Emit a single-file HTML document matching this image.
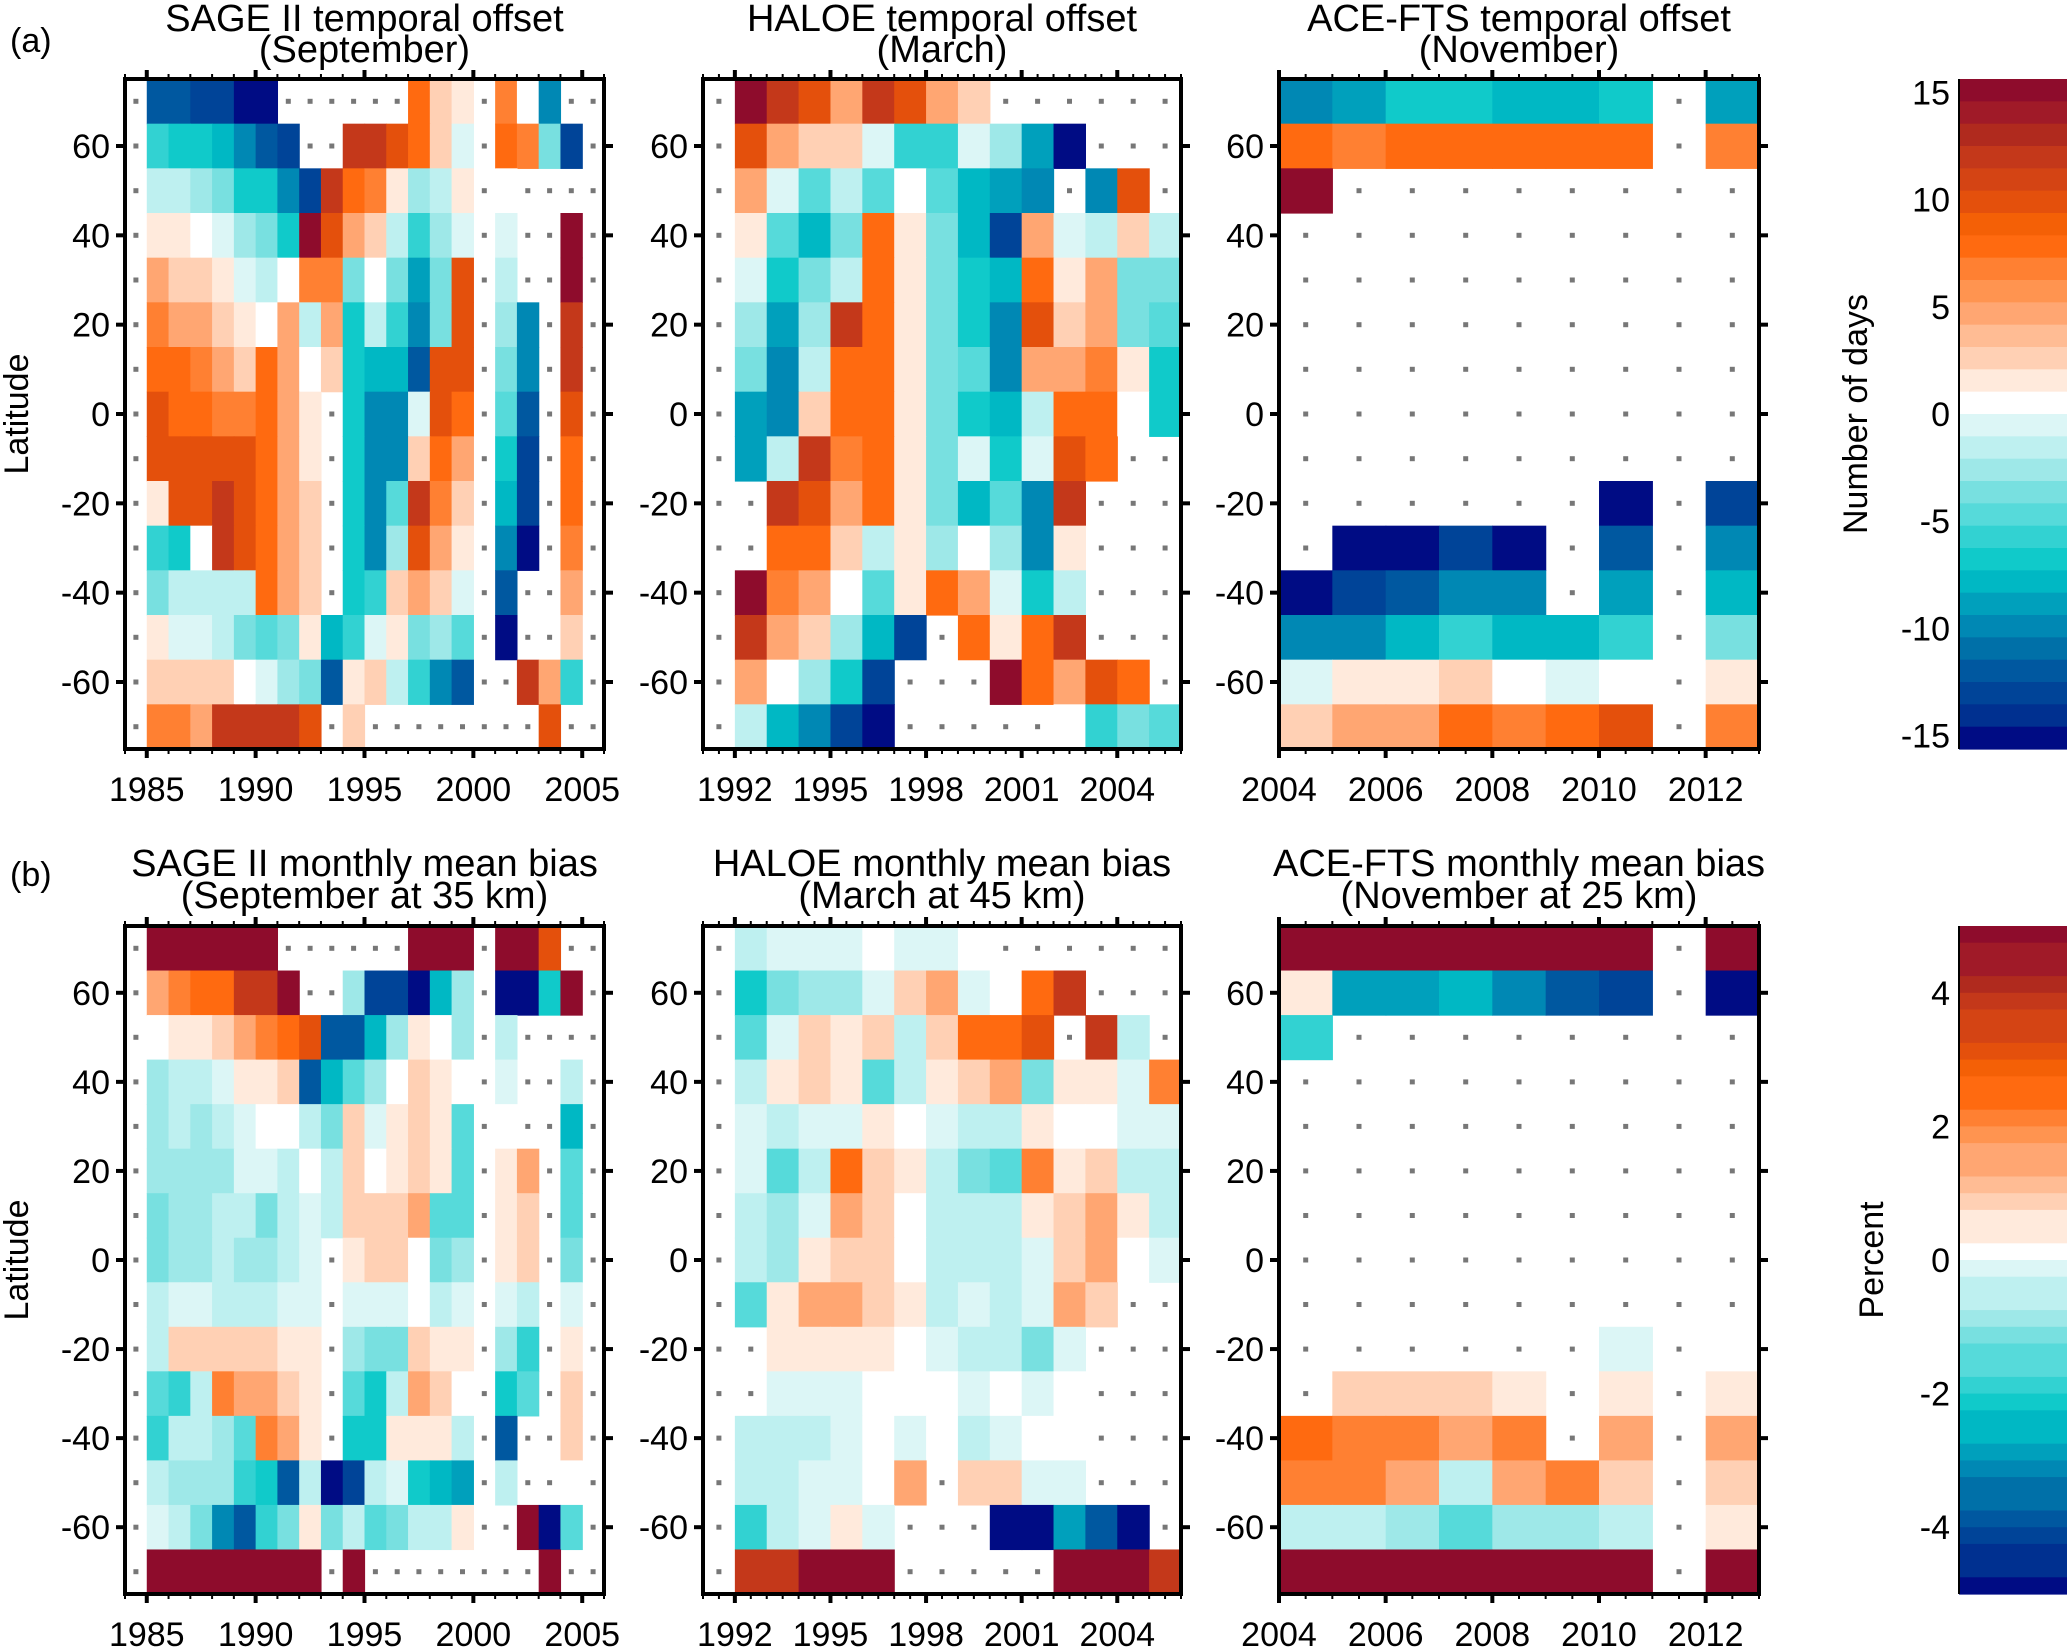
<!DOCTYPE html>
<html><head><meta charset="utf-8">
<style>
html,body{margin:0;padding:0;background:#fff;}
svg{display:block;font-family:"Liberation Sans",sans-serif;}
</style></head>
<body>
<svg id="fig" width="2067" height="1648" viewBox="0 0 2067 1648" xmlns="http://www.w3.org/2000/svg">
<text x="10" y="52" font-size="34">(a)</text>
<text x="10" y="886" font-size="34">(b)</text>
</svg>
<script>
const codeValues = {R:14.5,r:11.5,E:9.5,O:7.5,o:6.5,p:4.5,q:2.5,s:1.5,'0':0.5,a:-0.5,b:-1.5,c:-2.5,d:-3.5,e:-4.5,f:-5.5,g:-6.5,h:-7.5,i:-8.5,j:-9.5,k:-11.5,l:-12.5,m:-14.5};
const latCenters = [70,60,50,40,30,20,10,0,-10,-20,-30,-40,-50,-60,-70];
const yTicks = [60,40,20,0,-20,-40,-60];

const sageYears = [1984,2006];
const haloeYears = [1991,2006];
const aceYears = [2004,2013];
const sageTicks = [1985,1990,1995,2000,2005];
const haloeTicks = [1992,1995,1998,2001,2004];
const aceTicks = [2004,2006,2008,2010,2012];

const sageOffset = [
".kkllmm......Oqs.o0j..",
".fgghjkl..rrEOqa.Oodl.",
".bbcdggjlrOoscbs.0....",
".ss0acdgREpqbfca.a..R.",
".pqqsab0ood0didE.b..R.",
".oppqs0pbpgbfjdE.cj.r.",
".OOopqOp0qghhkEE.dj.r.",
".EOOooOps.gjjaEO.ek.E.",
".EEEEEOps.gjjqOp.gl.O.",
".sEErEOpq.gjeroq.hl.O.",
".fg0rEOpq.gjcEps.jm.o.",
".dbbbbOpq.gfqpqa.k..p.",
".saabdedshfasdce.m..q.",
".qqqq0acdksqbfjk..rpf.",
".ooprrrrE.q........E.."
];
const haloeOffset = [
".RrEprEpq......",
".Epqqaffacim...",
".paebe0ehij.jE.",
".sehdOsdhlpabqb",
".agdbOsdghOspdd",
".cicrOsdgjEqpde",
".djbOOsdejppos g".replace(' ',''),
".ijqOOsdghbOO0g",
".ibroOsdagaEO..",
"..rEpOsdhejr...",
"..OOqbsc0cjs...",
".Rop0esOpagb...",
".rpqchl.OsOr...",
".p0cgl...ROpEO.",
".bhjlm.....0fde"
];
const aceOffset = [
"jigghhg.i",
"OoOOOOO.o",
"R........",
".........",".........",".........",".........",".........",".........",
"......m.l",
".mmlm.k.j",
"mlkjj.i.h",
"jjhfhhf.d",
"assq0a0.s",
"qppOoOE.o"
];
const sageBias = [
".RRRRRR......RRR.RRE..",
".poOOrrR..cllmhc.mmgR.",
".0ssqpoOEkkhcs0c.b....",
".cbbassqkhec0qs0.a..b.",
".cbcba00bdqasqse.0..h.",
".ccccaab0bq0sqse.sp.e.",
".dccbbdbabqqqpee.sq.e.",
".dccbccba.sqq0dc.sq.d.",
".baabbbaa.aaa0ba.ab.a.",
".bqqqqqss.cddqss.cf.s.",
".efboppqs.egbpq0.ge.q.",
".fbbceops.ggsssb.k..q.",
".bcccfgkbmlbaghi.b..0.",
".abdjkfdsdbedbbs..Rme.",
".RRRRRRRR.R........R.."
];
const haloeBias = [
".baaa0aa0......",
".gdccaqpa0Or...",
".eaqsqbqOOE.rb.",
".bsqsebsqpdssao",
".abaas0abbs00aa",
".aebOqsbdeosqbb",
".bcapq0bbbsqpsb",
".bcsqq0bbbaqp0a",
".esppqsbabapq..",
"..ssss0abbda...",
"..aaa000a0a0...",
".bbba0a0ba00...",
".bbaa0p.qqaa...",
".fbasa...mmikm.",
".rrRRR.....RRRr"
];
const aceBias = [
"RRRRRRR.R",
"siihjkl.m",
"f........",
".........",".........",".........",".........",".........",".........",
"......a.0",
".qqqs.s.s",
"Ooopo.p.p",
"oopbpoq.q",
"bbceccb.s",
"RRRRRRR.R"
];

const stops = ["#8e0c2c","#a01a28","#b02a1e","#c4381a","#d44414","#e4500c","#f46006","#ff6a10","#ff8032","#ff9450","#ffa672","#ffbc94","#ffd0b4","#ffeadc","#ffffff",
"#dcf6f6","#bef0f0","#9ee8e8","#78e0e0","#56dada","#32d2d2","#10caca","#00b8c4","#00a0bc","#0088b4","#0070a8","#0058a0","#004498","#003090","#000c84"];
function colorFrac(f){
  let idx = Math.floor((1-f)/2*30); if(idx<0)idx=0; if(idx>29)idx=29; return stops[idx];
}
const NS="http://www.w3.org/2000/svg";
const svg=document.getElementById('fig');
function mk(tag,attrs,parent){const e=document.createElementNS(NS,tag);for(const k in attrs)e.setAttribute(k,attrs[k]);(parent||svg).appendChild(e);return e;}

function panel(name,x0,x1,y0,y1,yrs,ticks,minorStep,data,vmax,title1,title2,tOff1,tOff2){
  const g=mk('g',{});
  
  
  const xs=v=>x0+(v-yrs[0])/(yrs[1]-yrs[0])*(x1-x0);
  const ys=v=>y0+(75-v)/150*(y1-y0);
  data.forEach((row,ri)=>{
    const lat=latCenters[ri];
    for(let ci=0;ci<row.length;ci++){
      const ch=row[ci]; const yr=yrs[0]+ci;
      const cx=xs(yr), cw=xs(yr+1)-xs(yr), cy=ys(lat+5), chh=ys(lat-5)-ys(lat+5);
      if(ch==='.'){
        const d=mk('rect',{x:(xs(yr+0.5)-2.5).toFixed(1),y:(ys(lat)-2.5).toFixed(1),width:5,height:5,fill:'#777'},g);
        
        
      } else {
        const v=codeValues[ch]*vmax/15;
        const r=mk('rect',{x:cx.toFixed(2),y:cy.toFixed(2),width:(cw+0.6).toFixed(2),height:(chh+0.6).toFixed(2),fill:colorFrac(v/vmax)},g);
        
        
      }
    }
  });
  const fr=mk('rect',{x:x0,y:y0,width:x1-x0,height:y1-y0,fill:'none',stroke:'#000','stroke-width':4},g);
  
  
  for(let t=yrs[0];t<=yrs[1]+1e-6;t+=minorStep){
    const X=xs(t);
    mk('line',{x1:X,x2:X,y1:y1,y2:y1+5,stroke:'#000','stroke-width':2},g);
    mk('line',{x1:X,x2:X,y1:y0,y2:y0-5,stroke:'#000','stroke-width':2},g);
  }
  ticks.forEach(t=>{
    const X=xs(t);
    mk('line',{x1:X,x2:X,y1:y1,y2:y1+9,stroke:'#000','stroke-width':4},g);
    mk('line',{x1:X,x2:X,y1:y0,y2:y0-9,stroke:'#000','stroke-width':4},g);
    const tx=mk('text',{x:X,y:y1+52,'font-size':34,'text-anchor':'middle'},g);
    tx.textContent=t;
    
    
  });
  yTicks.forEach(t=>{
    const Y=ys(t);
    mk('line',{x1:x0-9,x2:x0,y1:Y,y2:Y,stroke:'#000','stroke-width':4},g);
    mk('line',{x1:x1,x2:x1+9,y1:Y,y2:Y,stroke:'#000','stroke-width':4},g);
    const tx=mk('text',{x:x0-15,y:Y+12,'font-size':34,'text-anchor':'end'},g);
    tx.textContent=t;
    
    
  });
  const cxm=(x0+x1)/2;
  const t1=mk('text',{x:cxm,y:y0-tOff1,'font-size':38,'text-anchor':'middle'},g);
  t1.textContent=title1;
  
  
  const t2=mk('text',{x:cxm,y:y0-tOff2,'font-size':38,'text-anchor':'middle'},g);
  t2.textContent=title2;
  
  
}
const A=[79,749], B=[926,1594];
const C1=[125,604], C2=[703,1181], C3=[1279,1759];
panel('sage-offset-panel',C1[0],C1[1],A[0],A[1],sageYears,sageTicks,1,sageOffset,15,'SAGE II  temporal offset','(September)',48,17);
panel('haloe-offset-panel',C2[0],C2[1],A[0],A[1],haloeYears,haloeTicks,0.5,haloeOffset,15,'HALOE  temporal offset','(March)',48,17);
panel('ace-offset-panel',C3[0],C3[1],A[0],A[1],aceYears,aceTicks,0.5,aceOffset,15,'ACE-FTS  temporal offset','(November)',48,17);
panel('sage-bias-panel',C1[0],C1[1],B[0],B[1],sageYears,sageTicks,1,sageBias,5,'SAGE II monthly mean bias','(September at 35 km)',50,18);
panel('haloe-bias-panel',C2[0],C2[1],B[0],B[1],haloeYears,haloeTicks,0.5,haloeBias,5,'HALOE monthly mean bias','(March at  45 km)',50,18);
panel('ace-bias-panel',C3[0],C3[1],B[0],B[1],aceYears,aceTicks,0.5,aceBias,5,'ACE-FTS monthly mean bias','(November at 25 km)',50,18);

[[414,'latitude-label-a'],[1260,'latitude-label-b']].forEach(([cy,nm])=>{
  const t=mk('text',{x:0,y:0,'font-size':34,'text-anchor':'middle',transform:`translate(28,${cy}) rotate(-90)`});
  t.textContent='Latitude';
  
  
});

const cbTicksA=[15,10,5,0,-5,-10,-15];
const cbTicksB=[4,2,0,-2,-4];
function colorbar(name,y0,y1,vmax,nb,ticks,label,lx,labScale){
  const g=mk('g',{});
  
  
  const x0=1959,x1=2067;
  for(let i=0;i<nb;i++){
    const f=1-(i+0.5)/nb*2;
    const r=mk('rect',{x:x0,y:(y0+(y1-y0)*i/nb).toFixed(2),width:x1-x0,height:((y1-y0)/nb+0.6).toFixed(2),fill:colorFrac(f)},g);
    
    
  }
  mk('line',{x1:x0,x2:x0,y1:y0,y2:y1,stroke:'#000','stroke-width':2},g);
  const mid=(y0+y1)/2, half=(y1-y0)/2*labScale;
  ticks.forEach(t=>{
    const Y=mid-t/vmax*half;
    const tx=mk('text',{x:1950,y:Y+12,'font-size':34,'text-anchor':'end'},g);
    tx.textContent=t;
    
    
  });
  const t=mk('text',{x:0,y:0,'font-size':34,'text-anchor':'middle',transform:`translate(${lx},${mid}) rotate(-90)`},g);
  t.textContent=label;
  
  
}
colorbar('colorbar-days',79,749,15,30,cbTicksA,'Number of days',1867,0.96);
colorbar('colorbar-percent',926,1594,5,40,cbTicksB,'Percent',1883,1.0);
</script>
</body></html>
